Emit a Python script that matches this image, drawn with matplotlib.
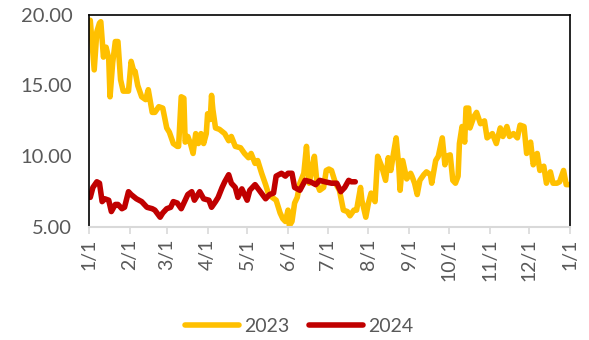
import numpy as np
import pandas as pd
import matplotlib
matplotlib.use('Agg')
import matplotlib.pyplot as plt
import matplotlib.dates as mdates

# day of year (0 = Jan 1) and value for each series
days_2023 = [1, 4, 6, 8, 9, 11, 13, 15, 16, 18, 20, 22, 24, 26, 30, 32, 34, 35, 37, 40,
             43, 45, 48, 50, 53, 56, 59, 61, 64, 67, 68, 70, 72, 73, 75, 77, 79, 81, 83, 85,
             87, 89, 90, 92, 93, 94, 96, 99, 103, 106, 108, 111, 115, 118, 121, 123, 126, 128, 131, 134,
             136, 139, 142, 145, 147, 149, 151, 152, 154, 156, 158, 160, 163, 165, 167, 169, 171, 173, 175, 178,
             180, 182, 184, 187, 190, 193, 196, 198, 201, 203, 206, 207, 210, 212, 214, 217, 219, 222, 225, 227,
             229, 231, 233, 235, 236, 238, 241, 244, 245, 247, 249, 251, 254, 256, 259, 260, 263, 265, 268, 270,
             271, 274, 276, 278, 280, 281, 283, 285, 286, 288, 289, 292, 294, 297, 300, 302, 306, 309, 312, 314,
             317, 319, 322, 325, 327, 330, 332, 335, 337, 340, 342, 345, 347, 350, 352, 355, 357, 360, 362, 365]
vals_2023 = [19.6, 16.1, 18.8, 19.4, 19.5, 17.0, 17.7, 16.9, 14.2, 16.6, 18.1, 18.1, 15.4, 14.6, 14.6, 16.7, 16.0, 16.0, 15.0, 14.2,
             14.0, 14.7, 13.1, 13.1, 13.5, 13.4, 12.0, 11.7, 10.9, 10.7, 10.7, 14.2, 14.1, 11.0, 11.4, 10.9, 10.2, 11.6, 10.9, 11.6,
             10.9, 11.6, 13.0, 12.6, 14.3, 13.3, 12.0, 11.9, 11.6, 11.1, 11.4, 10.7, 10.6, 10.2, 9.9, 10.2, 9.5, 9.7, 8.8, 8.0,
             7.4, 7.1, 6.9, 6.0, 5.6, 5.4, 6.2, 5.1, 5.4, 6.7, 7.1, 8.1, 8.8, 10.7, 8.1, 9.0, 10.0, 8.1, 7.6, 7.8,
             9.0, 9.1, 9.0, 8.1, 7.6, 6.2, 6.1, 5.8, 6.2, 6.2, 7.8, 6.9, 5.7, 6.7, 7.4, 6.8, 10.0, 9.3, 8.3, 9.9,
             9.0, 10.2, 11.3, 9.3, 7.6, 9.7, 8.4, 8.8, 8.6, 8.1, 7.3, 8.3, 8.7, 8.9, 8.7, 8.1, 9.7, 10.0, 11.3, 9.4,
             10.0, 10.1, 8.3, 8.1, 8.6, 10.9, 12.1, 11.0, 13.4, 13.4, 12.0, 12.8, 13.1, 12.3, 12.5, 11.3, 11.6, 10.9, 12.0, 11.4,
             12.1, 11.4, 11.6, 11.3, 12.2, 12.1, 10.2, 11.0, 9.4, 10.2, 9.0, 9.3, 8.1, 8.9, 8.1, 8.1, 8.2, 9.0, 8.0, 8.0]

days_2024 = [1, 3, 6, 8, 10, 12, 15, 17, 20, 22, 25, 27, 30, 32, 36, 40, 44, 48, 50, 54,
             56, 59, 62, 64, 67, 70, 73, 75, 78, 80, 84, 87, 91, 93, 96, 98, 101, 103, 106, 108,
             111, 113, 116, 120, 122, 126, 130, 134, 137, 140, 142, 146, 149, 151, 154, 156, 160, 164, 168, 172,
             175, 179, 184, 188, 191, 194, 197, 199, 202]
vals_2024 = [7.1, 7.8, 8.2, 8.1, 6.8, 7.0, 6.9, 6.1, 6.6, 6.6, 6.3, 6.4, 7.5, 7.3, 7.0, 6.8, 6.4, 6.3, 6.2, 5.7,
             6.0, 6.3, 6.4, 6.8, 6.7, 6.3, 6.9, 7.3, 7.5, 6.9, 7.5, 7.0, 6.9, 6.4, 6.8, 7.1, 7.8, 8.2, 8.7, 8.1,
             7.8, 7.1, 7.7, 6.9, 7.6, 8.0, 7.5, 7.0, 7.3, 7.4, 8.6, 8.8, 8.6, 8.8, 8.8, 7.8, 7.6, 8.3, 8.2, 8.0,
             8.3, 8.2, 8.1, 8.1, 7.5, 7.8, 8.3, 8.2, 8.2]

year_start = pd.Timestamp('2023-01-01')
x23 = year_start + pd.to_timedelta(days_2023, unit='D')
x24 = year_start + pd.to_timedelta(days_2024, unit='D')

plt.rcParams['font.family'] = ['Lato', 'DejaVu Sans']
grey = '#595959'

fig = plt.figure(figsize=(5.89, 3.40), dpi=100)
ax = fig.add_axes([0.151, 0.332, 0.817, 0.625])

ax.plot(x23, vals_2023, color='#FFC000', linewidth=4.0, solid_joinstyle='round',
        solid_capstyle='round', label='2023')
ax.plot(x24, vals_2024, color='#C00000', linewidth=4.0, solid_joinstyle='round',
        solid_capstyle='round', label='2024')

ax.set_ylim(5, 20)
ax.set_yticks([5, 10, 15, 20])
ax.set_yticklabels(['5.00', '10.00', '15.00', '20.00'])
ax.set_xlim(year_start, pd.Timestamp('2024-01-01'))
ax.xaxis.set_major_locator(mdates.MonthLocator())
ax.xaxis.set_major_formatter(mdates.DateFormatter('%-m/%-d'))

for lbl in ax.get_xticklabels():
    lbl.set_rotation(90)
ax.tick_params(axis='x', colors='#D9D9D9', labelcolor=grey, length=5, width=1.2,
               labelsize=14, pad=3)
ax.tick_params(axis='y', length=0, labelcolor=grey, labelsize=14.5, pad=12)

for side in ['left', 'top', 'right']:
    ax.spines[side].set_color('black')
    ax.spines[side].set_linewidth(1.2)
ax.spines['bottom'].set_color('#D9D9D9')
ax.spines['bottom'].set_linewidth(1.5)

fig.legend(loc='center', bbox_to_anchor=(0.508, 0.041), ncol=2, frameon=False,
           fontsize=14, handlelength=2.8, handletextpad=0.25, columnspacing=1.0,
           labelcolor=grey)

fig.savefig('out.png', dpi=100)
